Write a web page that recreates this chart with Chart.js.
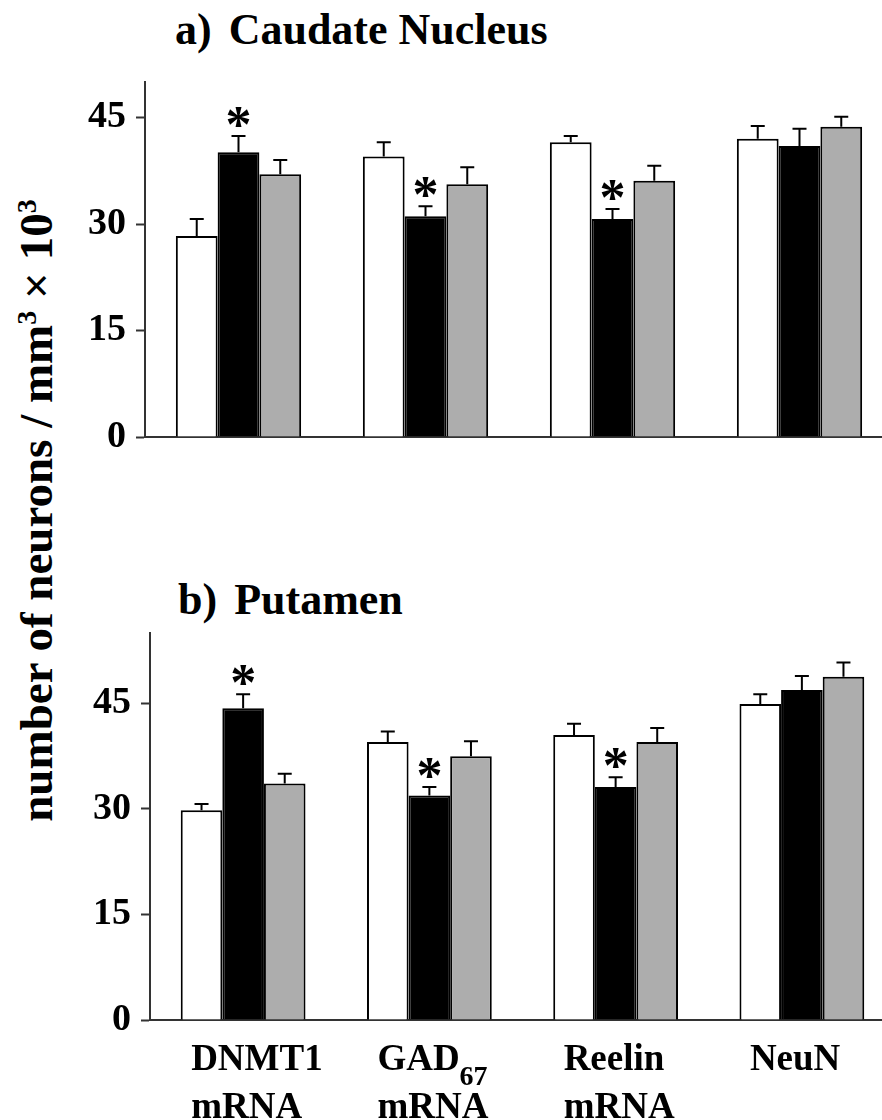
<!DOCTYPE html>
<html>
<head>
<meta charset="utf-8">
<script src="https://cdn.jsdelivr.net/npm/chart.js@4.4.0/dist/chart.umd.min.js"></script>
<style>
  html, body { margin: 0; padding: 0; background: #fff; width: 882px; height: 1120px; overflow: hidden; }
  .wrap { position: relative; width: 882px; height: 1120px; overflow: hidden; }
  canvas { position: absolute; left: 0; }
  .panel-title {
    position: absolute;
    font-family: "Liberation Serif", "Times New Roman", serif;
    font-weight: bold;
    font-size: 44px;
    line-height: 44px;
    white-space: nowrap;
    color: #000;
  }
  .panel-title .tag { margin-right: 6px; }
  #ylab {
    position: absolute;
    left: -314px;
    top: 487px;
    width: 700px;
    height: 47px;
    line-height: 47px;
    text-align: center;
    white-space: nowrap;
    font-family: "Liberation Serif", "Times New Roman", serif;
    font-weight: bold;
    font-size: 47px;
    color: #000;
    transform: rotate(-90deg);
    transform-origin: center center;
  }
  #ylab sup { font-size: 60%; line-height: 0; vertical-align: 0.55em; }
</style>
</head>
<body>
<div class="wrap">
  <div class="panel-title" style="left:175px; top:8px;"><span class="tag">a)</span> Caudate Nucleus</div>
  <div class="panel-title" style="left:178px; top:578px;"><span class="tag">b)</span> Putamen</div>
  <div id="ylab">number of neurons / mm<sup>3</sup> × 10<sup>3</sup></div>
  <canvas id="caudate" width="900" height="470" style="top:0px;"></canvas>
  <canvas id="putamen" width="900" height="560" style="top:560px;"></canvas>
</div>
<script>
// --- Data ---
const labelMain = ["DNMT1", "GAD", "Reelin", "NeuN"];
const labelSub = ["", "67", "", ""];
const labelSecond = ["mRNA", "mRNA", "mRNA", ""];
const categories = labelMain.map((m, i) => (m + labelSub[i] + " " + labelSecond[i]).trim());
const seriesNames = ["NPS", "SZP", "BDP"];
const yTicks = [0, 15, 30, 45];

// a) Caudate nucleus
const caudateNPS = [28.3, 39.5, 41.5, 42.0];
const caudateSZP = [40.1, 31.1, 30.7, 41.0];
const caudateBDP = [37.0, 35.6, 36.1, 43.7];
const caudateErrNPS = [2.4, 2.0, 0.9, 1.8];
const caudateErrSZP = [2.3, 1.4, 1.4, 2.4];
const caudateErrBDP = [2.0, 2.4, 2.1, 1.4];
const caudateStarSZP = [true, true, true, false];

// b) Putamen
const putamenNPS = [29.8, 39.5, 40.5, 44.9];
const putamenSZP = [44.3, 31.9, 33.1, 46.9];
const putamenBDP = [33.6, 37.5, 39.5, 48.8];
const putamenErrNPS = [0.9, 1.5, 1.6, 1.4];
const putamenErrSZP = [2.0, 1.2, 1.4, 2.0];
const putamenErrBDP = [1.4, 2.1, 2.0, 2.0];
const putamenStarSZP = [true, true, true, false];

const SERIF = "'Liberation Serif', 'Times New Roman', serif";
const AXIS_COLOR = "#333";

// error bars (upward only) + significance asterisks
const errorBarPlugin = {
  id: "errorBars",
  afterDatasetsDraw(chart) {
    const { ctx } = chart;
    const yScale = chart.scales.y;
    chart.data.datasets.forEach((ds, di) => {
      const meta = chart.getDatasetMeta(di);
      meta.data.forEach((bar, i) => {
        const err = ds.errors ? ds.errors[i] : 0;
        const capY = yScale.getPixelForValue(ds.data[i] + err);
        ctx.save();
        ctx.strokeStyle = "#000";
        ctx.lineWidth = 2;
        ctx.beginPath();
        ctx.moveTo(bar.x, bar.y);
        ctx.lineTo(bar.x, capY);
        ctx.moveTo(bar.x - 7, capY);
        ctx.lineTo(bar.x + 7, capY);
        ctx.stroke();
        if (ds.stars && ds.stars[i]) {
          ctx.fillStyle = "#000";
          ctx.font = "bold 52px " + SERIF;
          ctx.textAlign = "center";
          ctx.textBaseline = "alphabetic";
          ctx.fillText("*", bar.x, capY + 6);
        }
        ctx.restore();
      });
    });
  }
};

// category labels under the bottom panel (with subscript)
const xLabelPlugin = {
  id: "xLabels",
  afterDraw(chart) {
    if (!chart.options.plugins.xLabels || !chart.options.plugins.xLabels.show) return;
    const { ctx, chartArea } = chart;
    const xs = chart.scales.x;
    ctx.save();
    ctx.fillStyle = "#000";
    ctx.textAlign = "left";
    ctx.textBaseline = "alphabetic";
    categories.forEach((c, i) => {
      const x0 = xs.getPixelForTick(i) - 52;
      const y1 = chartArea.bottom + 50;
      ctx.font = "bold 37px " + SERIF;
      ctx.fillText(labelMain[i], x0, y1);
      if (labelSub[i]) {
        const w = ctx.measureText(labelMain[i]).width;
        ctx.font = "bold 28px " + SERIF;
        ctx.fillText(labelSub[i], x0 + w, y1 + 15);
        ctx.font = "bold 37px " + SERIF;
      }
      if (labelSecond[i]) ctx.fillText(labelSecond[i], x0, y1 + 48);
    });
    ctx.restore();
  }
};

function buildChart(id, cfg) {
  const fills = ["#ffffff", "#000000", "#adadad"];
  const datasets = cfg.values.map((vals, k) => ({
    label: seriesNames[k],
    data: vals,
    errors: cfg.errors[k],
    stars: cfg.stars[k],
    backgroundColor: fills[k],
    borderColor: "#000",
    borderWidth: 2,
    categoryPercentage: 0.67,
    barPercentage: 1.0
  }));

  return new Chart(document.getElementById(id), {
    type: "bar",
    data: { labels: categories, datasets },
    options: {
      responsive: false,
      animation: false,
      layout: { padding: { top: cfg.padTop, right: cfg.padRight, left: 0, bottom: 0 } },
      plugins: {
        legend: { display: false },
        tooltip: { enabled: false },
        xLabels: { show: cfg.showLabels }
      },
      scales: {
        x: {
          offset: true,
          grid: { display: false },
          border: { display: true, color: AXIS_COLOR, width: 2 },
          ticks: { display: false },
          afterFit: (s) => { s.height = cfg.xHeight; }
        },
        y: {
          min: 0,
          max: cfg.yMax,
          afterBuildTicks: (s) => { s.ticks = yTicks.map((v) => ({ value: v })); },
          afterFit: (s) => { s.width = cfg.axisLeft; },
          grid: { drawOnChartArea: false, drawTicks: true, tickLength: 9, tickWidth: 2, tickColor: AXIS_COLOR },
          border: { display: true, color: AXIS_COLOR, width: 2 },
          ticks: {
            color: "#000",
            padding: 10,
            font: { family: SERIF, weight: "bold", size: 38 }
          }
        }
      }
    },
    plugins: [errorBarPlugin, xLabelPlugin]
  });
}

buildChart("caudate", {
  values: [caudateNPS, caudateSZP, caudateBDP],
  errors: [caudateErrNPS, caudateErrSZP, caudateErrBDP],
  stars: [null, caudateStarSZP, null],
  yMax: 50,
  padTop: 82,
  padRight: 7,
  xHeight: 33,
  axisLeft: 145,
  showLabels: false
});

buildChart("putamen", {
  values: [putamenNPS, putamenSZP, putamenBDP],
  errors: [putamenErrNPS, putamenErrSZP, putamenErrBDP],
  stars: [null, putamenStarSZP, null],
  yMax: 55,
  padTop: 73,
  padRight: 5,
  xHeight: 100,
  axisLeft: 150,
  showLabels: true
});
</script>
</body>
</html>
